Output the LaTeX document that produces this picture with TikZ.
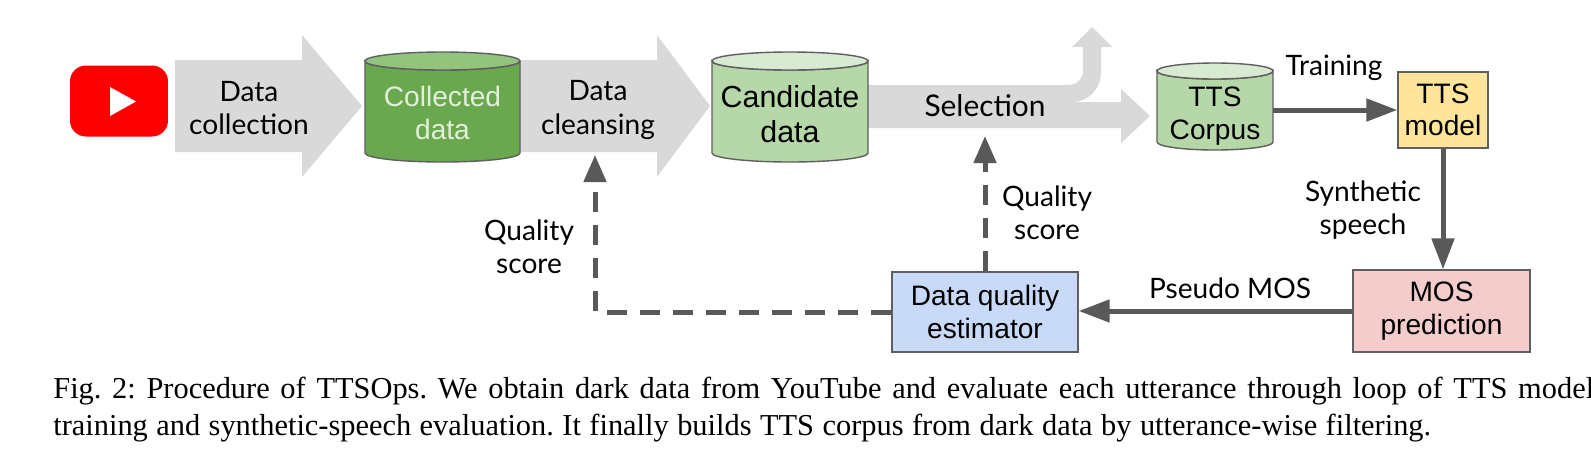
\documentclass[tikz,border=0pt]{standalone}
\usepackage{fontspec}
\setmainfont{Liberation Serif}
\newfontfamily\lato{Lato}
\newfontfamily\arial{Liberation Sans}
\usetikzlibrary{arrows.meta}
\definecolor{ytred}{HTML}{FF0000}
\definecolor{flowgray}{HTML}{D9D9D9}
\definecolor{darkgreen}{HTML}{6AA84F}
\definecolor{darkgreentop}{HTML}{93C47D}
\definecolor{lightgreen}{HTML}{B6D7A8}
\definecolor{lightgreentop}{HTML}{D9EAD3}
\definecolor{paletext}{HTML}{E2F0D9}
\definecolor{modelyellow}{HTML}{FFE599}
\definecolor{mospink}{HTML}{F4CCCC}
\definecolor{dqblue}{HTML}{C9DAF8}
\definecolor{conn}{HTML}{595959}
\definecolor{edge}{HTML}{5F5F5F}
\newcommand\drawcyl[7]{%
  \pgfmathsetmacro\cylcx{(#1+#2)/2}%
  \pgfmathsetmacro\cylrx{(#2-#1)/2}%
  \filldraw[cylline, fill=#6] (#2,#3) -- (#2,#4)
    arc[start angle=0, end angle=-180, x radius=\cylrx, y radius=#5]
    -- (#1,#3) arc[start angle=180, end angle=360, x radius=\cylrx, y radius=#5] -- cycle;
  \filldraw[cylline, fill=#7] (\cylcx,#3) ellipse[x radius=\cylrx, y radius=#5];
}
\begin{document}
\begin{tikzpicture}[x=0.02cm, y=0.02cm,
  lbl/.style={font=\lato\fontsize{16}{19}\selectfont, align=center, inner sep=0pt},
  nodetext/.style={font=\arial\fontsize{16}{18.5}\selectfont, align=center, inner sep=0pt},
  procbox/.style={draw=edge, line width=0.8pt, font=\arial\fontsize{16}{18.5}\selectfont, align=center, inner sep=0pt},
  solidarrow/.style={draw=conn, line width=2.85pt, -{Triangle[length=17.6pt, width=12.5pt]}},
  dasharrow/.style={draw=conn, line width=2.85pt, dash pattern=on 11.4pt off 7.4pt, -{Triangle[length=15.4pt, width=12.5pt]}},
  blockarrow/.style={fill=flowgray},
  cylline/.style={draw=edge, line width=0.8pt},
  captext/.style={anchor=base west, inner sep=0pt, font=\fontsize{17.3}{21}\selectfont\frenchspacing}
]
\useasboundingbox (0,0) rectangle (1591,-471);
\fill[white] (0,0) rectangle (1591,-471);

% YouTube logo
\node[fill=ytred, rounded corners=9pt, minimum width=1.96cm, minimum height=1.42cm, inner sep=0pt] (yt) at (119,-101) {};
\fill[white] (110,-87) -- (136,-101.5) -- (110,-116) -- cycle;

% gray block arrows
\fill[blockarrow] (175,-60) -- (302,-60) -- (302,-35) -- (362,-106) -- (302,-177) -- (302,-152) -- (175,-152) -- cycle;
\fill[blockarrow] (515,-60) -- (657,-60) -- (657,-35) -- (710,-106) -- (657,-177) -- (657,-152) -- (515,-152) -- cycle;
\fill[blockarrow] (860,-85) -- (1068,-85) .. controls (1077,-85) and (1083,-79) .. (1083,-70)
  -- (1083,-47) -- (1072,-47) -- (1092,-27) -- (1112,-47) -- (1101,-47) -- (1101,-73)
  .. controls (1101,-89) and (1088,-102) .. (1072,-102)
  -- (1121,-102) -- (1121,-89) -- (1150,-116) -- (1121,-143) -- (1121,-128) -- (860,-128) -- cycle;

% cylinders
\drawcyl{365}{520}{-61}{-153}{9}{darkgreen}{darkgreentop}
\drawcyl{712}{868}{-61}{-153}{9}{lightgreen}{lightgreentop}
\drawcyl{1157}{1273}{-71}{-142}{8}{lightgreen}{lightgreentop}

% labels on block arrows
\node[lbl] (collect) at (249,-108) {Data\\collection};
\node[lbl] (cleanse) at (598,-110) {Data\\cleansing};
\node[lbl, font=\lato\fontsize{17}{19}\selectfont] (selection) at (985,-106) {Selection};

% cylinder texts
\node[nodetext, text=paletext, minimum width=3.1cm] (collected) at (442.5,-113) {Collected\\data};
\node[nodetext, font=\arial\fontsize{17.3}{19.5}\selectfont, minimum width=3.12cm] (candidate) at (790,-114) {Candidate\\data};
\node[nodetext, minimum width=2.32cm] (corpus) at (1215,-116) {TTS\\Corpus};

% boxes
\node[procbox, fill=modelyellow, minimum width=1.8cm, minimum height=1.52cm] (model) at (1443,-110) {TTS\\model};
\node[procbox, fill=mospink, minimum width=3.54cm, minimum height=1.64cm] (mos) at (1441.5,-311) {MOS\\prediction};
\node[procbox, fill=dqblue, minimum width=3.72cm, minimum height=1.6cm] (dqe) at (985,-312) {Data quality\\estimator};

% connectors
\coordinate (seltip) at (985,-136);
\coordinate (cleantip) at (595,-155);
\draw[solidarrow] (corpus.east |- model.west) -- (model.west);
\draw[solidarrow] (model.south) -- (model.south |- mos.north);
\draw[solidarrow] (mos.west) -- (mos.west -| dqe.east);
\draw[dasharrow] (dqe.north) -- (seltip);
\draw[dasharrow] (dqe.west) -- (cleantip |- dqe.west) -- (cleantip);

% connector labels
\node[lbl] (trainlbl) at (1334,-68) {Training};
\node[lbl] (synthlbl) at (1363,-210) {Synthetic\\speech};
\node[lbl] (pmoslbl) at (1230,-288) {Pseudo MOS};
\node[lbl] (qs1lbl) at (1047,-213) {Quality\\score};
\node[lbl] (qs2lbl) at (529,-247) {Quality\\score};

% caption
\node[captext] (cap1) at (53,-398) {\hbox to 30.82cm{Fig. 2: Procedure of TTSOps. We obtain dark data from YouTube and evaluate each utterance through loop of TTS model}};
\node[captext] (cap2) at (53,-435) {\hbox to 27.56cm{training and synthetic-speech evaluation. It finally builds TTS corpus from dark data by utterance-wise filtering.}};
\end{tikzpicture}
\end{document}
